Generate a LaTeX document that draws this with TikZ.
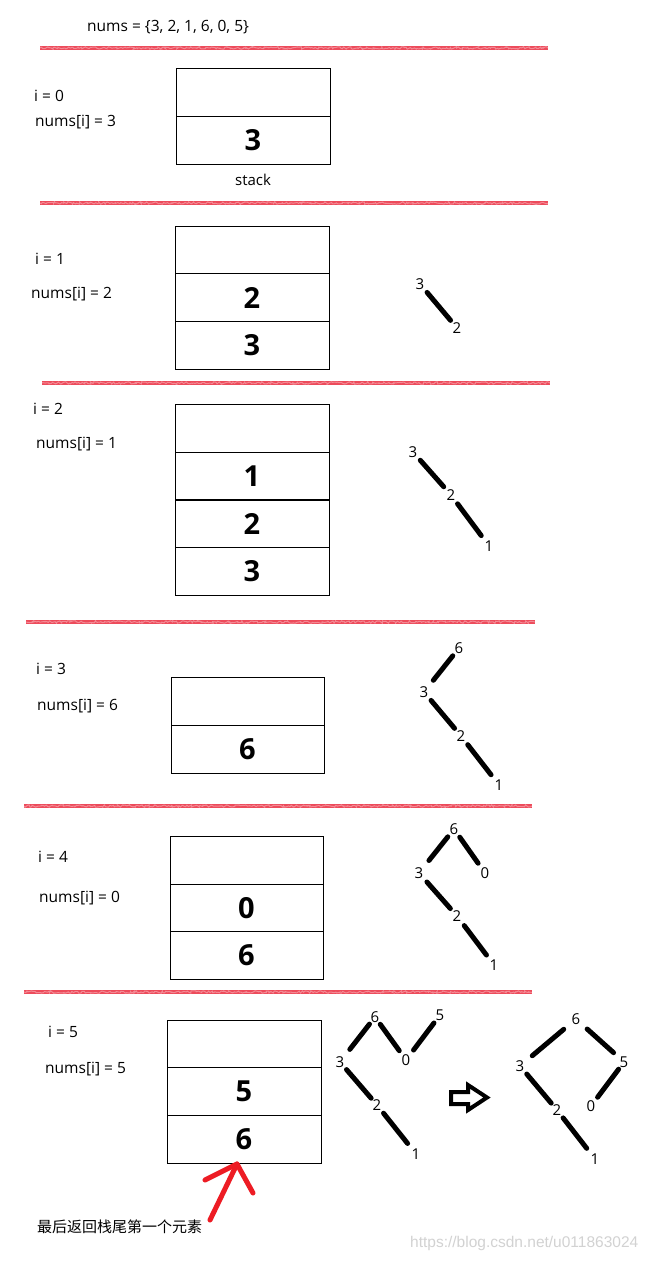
\documentclass[tikz,border=0pt]{standalone}
\usepackage{fontspec}
\setmainfont{Open Sans}
\newfontfamily\cjk{Noto Sans CJK SC}
\newfontfamily\wmfont{Liberation Sans}
\usetikzlibrary{decorations.pathmorphing}
\definecolor{sepred}{RGB}{232,30,50}
\definecolor{arrred}{RGB}{237,28,36}
\begin{document}
\begin{tikzpicture}[x=1pt,y=-1pt,
  lbl/.style={font=\fontsize{15.5}{17}\selectfont, anchor=west, inner sep=0pt},
  big/.style={font=\fontsize{29}{32}\selectfont\bfseries},
  cell/.style={draw, line width=1pt, minimum width=154pt, minimum height=47.6pt, inner sep=0pt, big},
  tn/.style={font=\fontsize{15}{17}\selectfont, inner sep=0pt},
  edge/.style={line width=5pt, line cap=round, shorten <=11pt, shorten >=11pt},
  sepbase/.style={line width=4.5pt, sepred!80},
  septex/.style={line width=1pt, white, opacity=0.35, decorate,
     decoration={random steps, segment length=1.5pt, amplitude=1.2pt}},
  redarrow/.style={line width=5pt, arrred, line cap=round, line join=round}
]
\useasboundingbox (0,0) rectangle (654,1262);
\fill[white] (0,0) rectangle (654,1262);

% ---------- separators ----------
\foreach \xa/\xb/\yy in {40/548/48, 40/548/203, 42/550/383, 26/535/622, 24/532/806, 24/532/992}{
  \draw[sepbase] (\xa,\yy) -- (\xb,\yy);
  \draw[septex] (\xa,\yy) -- (\xb,\yy);
}

% ---------- title ----------
\node[lbl] (title) at (87,27) {nums = \{3, 2, 1, 6, 0, 5\}};

% ---------- section 0 ----------
\node[lbl] (i0) at (34,96) {i = 0};
\node[lbl] (n0) at (35,122) {nums[i] = 3};
\node[cell, minimum height=48pt] (s0a) at (253,92) {};
\node[cell, minimum height=48pt] (s0b) at (253,140) {3};
\node[tn] (stack) at (253,180) {stack};

% ---------- section 1 ----------
\node[lbl] (i1) at (35,259) {i = 1};
\node[lbl] (n1) at (31,294) {nums[i] = 2};
\node[cell] (s1a) at (252,249.8) {};
\node[cell] (s1b) at (252,297.5) {2};
\node[cell] (s1c) at (252,345.2) {3};
\node[tn] (a3) at (420,284) {3};
\node[tn] (a2) at (457,328) {2};
\draw[edge, shorten >=10pt] (a3.center) -- (a2.center);

% ---------- section 2 ----------
\node[lbl] (i2) at (33,409) {i = 2};
\node[lbl] (n2) at (36,444) {nums[i] = 1};
\node[cell] (s2a) at (252,428.75) {};
\node[cell] (s2b) at (252,476.25) {1};
\node[cell] (s2c) at (252,523.75) {2};
\node[cell] (s2d) at (252,571.25) {3};
\node[tn] (b3) at (413,452) {3};
\node[tn] (b2) at (451,495) {2};
\node[tn] (b1) at (489,546) {1};
\draw[edge] (b3.center) -- (b2.center);
\draw[edge, shorten >=13pt] (b2.center) -- (b1.center);

% ---------- section 3 ----------
\node[lbl] (i3) at (36,669) {i = 3};
\node[lbl] (n3) at (37,706) {nums[i] = 6};
\node[cell, minimum width=153pt] (s3a) at (247.5,701.75) {};
\node[cell, minimum width=153pt] (s3b) at (247.5,749.25) {6};
\node[tn] (c6) at (459,648) {6};
\node[tn] (c3) at (424,692) {3};
\node[tn] (c2) at (461,736) {2};
\node[tn] (c1) at (499,785) {1};
\draw[edge, shorten <=15pt, shorten >=10pt] (c3.center) -- (c6.center);
\draw[edge, shorten >=10pt] (c3.center) -- (c2.center);
\draw[edge, shorten >=13pt] (c2.center) -- (c1.center);

% ---------- section 4 ----------
\node[lbl] (i4) at (38,857) {i = 4};
\node[lbl] (n4) at (39,898) {nums[i] = 0};
\node[cell, minimum width=153pt] (s4a) at (246.5,860.7) {};
\node[cell, minimum width=153pt] (s4b) at (246.5,908) {0};
\node[cell, minimum width=153pt] (s4c) at (246.5,955.3) {6};
\node[tn] (d6) at (454,829) {6};
\node[tn] (d3) at (419,873) {3};
\node[tn] (d0) at (485,873) {0};
\node[tn] (d2) at (457,916) {2};
\node[tn] (d1) at (494,965) {1};
\draw[edge, shorten <=16pt, shorten >=10pt] (d3.center) -- (d6.center);
\draw[edge, shorten <=10pt, shorten >=12pt] (d6.center) -- (d0.center);
\draw[edge, shorten <=12pt, shorten >=10pt] (d3.center) -- (d2.center);
\draw[edge, shorten <=12pt, shorten >=12.5pt] (d2.center) -- (d1.center);

% ---------- section 5 ----------
\node[lbl] (i5) at (48,1032) {i = 5};
\node[lbl] (n5) at (45,1069) {nums[i] = 5};
\node[cell] (s5a) at (244,1043.8) {};
\node[cell] (s5b) at (244,1091.5) {5};
\node[cell] (s5c) at (244,1139.2) {6};

% left tree
\node[tn] (e6) at (375,1017) {6};
\node[tn] (e5) at (440,1015) {5};
\node[tn] (e3) at (340,1062) {3};
\node[tn] (e0) at (406,1060) {0};
\node[tn] (e2) at (377,1105) {2};
\node[tn] (e1) at (416,1154) {1};
\draw[edge, shorten <=16pt, shorten >=9pt] (e3.center) -- (e6.center);
\draw[edge, shorten <=9pt, shorten >=11.5pt] (e6.center) -- (e0.center);
\draw[edge, shorten <=12.5pt, shorten >=10pt] (e0.center) -- (e5.center);
\draw[edge, shorten <=10pt, shorten >=9pt] (e3.center) -- (e2.center);
\draw[edge, shorten <=10.5pt, shorten >=13.5pt] (e2.center) -- (e1.center);

% hollow arrow
\draw[line width=4pt, line join=miter] (451,1092) -- (468,1092) -- (468,1085) -- (487,1097.5)
  -- (468,1110) -- (468,1104) -- (451,1104) -- cycle;

% right tree
\node[tn] (f6) at (576,1019) {6};
\node[tn] (f3) at (520,1066) {3};
\node[tn] (f5) at (624,1062) {5};
\node[tn] (f2) at (557,1110) {2};
\node[tn] (f0) at (591,1106) {0};
\node[tn] (f1) at (595,1159) {1};
\draw[edge, shorten <=16pt, shorten >=16pt] (f3.center) -- (f6.center);
\draw[edge, shorten <=15pt, shorten >=14pt] (f6.center) -- (f5.center);
\draw[edge, shorten <=9pt, shorten >=11pt] (f5.center) -- (f0.center);
\draw[edge, shorten <=10.5pt, shorten >=9pt] (f3.center) -- (f2.center);
\draw[edge, shorten <=10pt, shorten >=13.5pt] (f2.center) -- (f1.center);

% red arrow
\coordinate (tip) at (237,1164);
\coordinate (lb) at (205,1180);
\coordinate (rb) at (253,1193);
\coordinate (tail) at (210,1220);
\draw[redarrow] (lb) -- (tip) -- (rb);
\draw[redarrow] (tail) -- (tip);
\node[anchor=west, inner sep=0pt, font=\cjk\fontsize{15}{17}\selectfont] (note) at (37,1227) {最后返回栈尾第一个元素};

% watermark
\node[anchor=west, inner sep=0pt, font=\wmfont\fontsize{15.5}{17}\selectfont, text=gray!35] (wm) at (410,1243) {https://blog.csdn.net/u011863024};
\end{tikzpicture}
\end{document}
